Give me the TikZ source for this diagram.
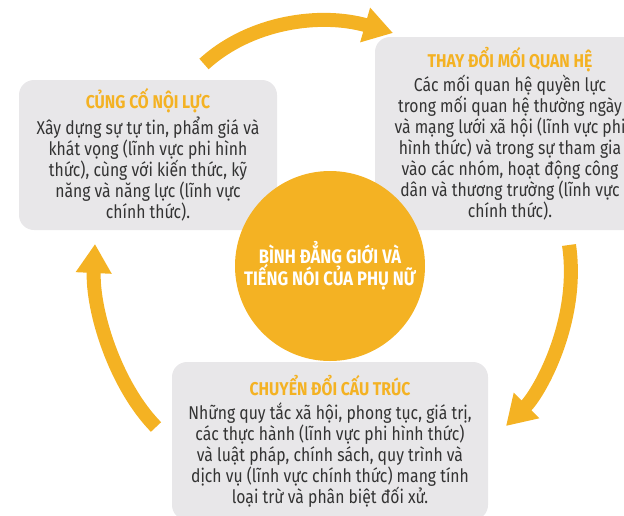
\documentclass[tikz,border=0pt]{standalone}
\usepackage{fontspec}
\setmainfont{Fira Sans}[FakeStretch=0.85]
\usepackage{xcolor}
\usepackage{tikz}
\usetikzlibrary{arrows.meta,positioning}

\definecolor{accentyellow}{HTML}{F4B223}
\definecolor{boxgray}{HTML}{E8E7E9}
\definecolor{bodygray}{HTML}{333333}
\newcommand{\boxtitle}[1]{{\bfseries\color{accentyellow}#1}}

\begin{document}
\begin{tikzpicture}[x=1pt, y=-1pt,
    info_box/.style={rectangle, fill=boxgray, rounded corners=15pt, align=center, inner sep=0pt, text=bodygray, font=\fontsize{18.5}{21}\selectfont},
    core_circle/.style={circle, fill=accentyellow, minimum size=190pt, inner sep=0pt, align=center, text=white, font=\fontsize{19.5}{22}\selectfont\bfseries},
    cycle_arrow/.style={draw=accentyellow, line width=14pt, -{Triangle[length=29pt, width=34pt]}}
]
\useasboundingbox (0,0) rectangle (624,515);
\clip (0,0) rectangle (624,515);

% Three stage boxes
\node[info_box, minimum width=258pt, minimum height=150pt] (inner_box) at (148,155) {\boxtitle{CỦNG CỐ NỘI LỰC}\\[3pt]Xây dựng sự tự tin, phẩm giá và\\khát vọng (lĩnh vực phi hình\\thức), cùng với kiến thức, kỹ\\năng và năng lực (lĩnh vực\\chính thức).};
\node[info_box, minimum width=270pt, minimum height=193pt] (relation_box) at (510,133.5) {\boxtitle{THAY ĐỔI MỐI QUAN HỆ}\\[3pt]Các mối quan hệ quyền lực\\trong mối quan hệ thường ngày\\và mạng lưới xã hội (lĩnh vực phi\\hình thức) và trong sự tham gia\\vào các nhóm, hoạt động công\\dân và thương trường (lĩnh vực\\chính thức).};
\node[info_box, minimum width=316pt, minimum height=158pt] (structure_box) at (330,441) {\boxtitle{CHUYỂN ĐỔI CẤU TRÚC}\\[3pt]Những quy tắc xã hội, phong tục, giá trị,\\các thực hành (lĩnh vực phi hình thức)\\và luật pháp, chính sách, quy trình và\\dịch vụ (lĩnh vực chính thức) mang tính\\loại trừ và phân biệt đối xử.};

% Centre
\node[core_circle] (core) at (330,266) {BÌNH ĐẲNG GIỚI VÀ\\TIẾNG NÓI CỦA PHỤ NỮ};

% Cycle arrows
\coordinate (top_start) at (204,64);
\coordinate (top_end) at (393,33);
\coordinate (right_start) at (569,245);
\coordinate (right_end) at (506,426);
\coordinate (left_start) at (156,427);
\coordinate (left_end) at (95,244);

\draw[cycle_arrow] (top_start) .. controls (250,22) and (320,12) .. (top_end);
\draw[cycle_arrow] (right_start) .. controls (580,320) and (540,392) .. (right_end);
\draw[cycle_arrow] (left_start) .. controls (115,385) and (92,310) .. (left_end);

\end{tikzpicture}
\end{document}
